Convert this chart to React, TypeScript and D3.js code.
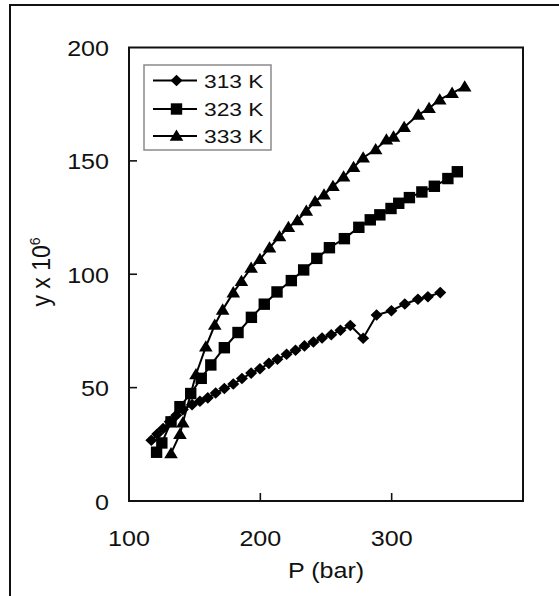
import React from "react";
import * as d3 from "d3";

const P313 = [117, 121.5, 126, 131, 136, 141, 148, 154, 160, 166, 172.6, 179.4, 186, 193, 199.7, 206.5, 213, 220, 226.8, 233.6, 240.4, 247, 254, 261, 268.5, 278.3, 288.5, 299.8, 310, 320, 327.6, 337];
const Y313 = [26.8, 29.5, 32, 35, 37.8, 40.3, 42.5, 44, 45.5, 47.6, 49.6, 51.6, 54, 56.4, 58.3, 60.7, 62.5, 64.7, 66.5, 68.4, 70.1, 71.9, 73.3, 75.3, 77.4, 71.8, 82, 83.9, 86.9, 89, 90.1, 91.9];

const P323 = [121, 125, 132, 138.8, 147, 155, 162.3, 172.6, 183, 193.2, 203, 212.7, 223.6, 233, 243, 252.6, 264, 275, 283.7, 291, 299.5, 305.4, 313.5, 323, 332.5, 342.8, 350];
const Y323 = [21.5, 25.6, 34.9, 41.6, 47.4, 54.1, 60, 67.6, 74.3, 81, 86.8, 92.2, 97.2, 101.9, 107, 111.7, 115.7, 120.7, 124, 126.2, 129, 131.3, 133.8, 136.3, 138.8, 142.2, 145.2];

const P333 = [132, 138.8, 141, 151, 158.5, 165.3, 171.3, 179.4, 185.6, 193, 199.7, 207, 214.6, 221.4, 228.2, 235, 241.7, 248.5, 255.3, 263.4, 271, 278.3, 287.8, 296, 301.4, 309.5, 320.3, 328.5, 336.6, 346, 355.6];
const Y333 = [21, 29.5, 34.5, 55.8, 68, 77.6, 84.3, 91.9, 96.9, 102.8, 106.6, 111.7, 116.7, 120.7, 123.7, 127.9, 132.1, 135.1, 138.8, 143, 147.2, 151.4, 155, 159.3, 160.6, 164.8, 170.3, 173.2, 177, 179.9, 182.7];

const SERIES = ["313 K", "323 K", "333 K"];
const X_TICKS = [100, 200, 300];
const Y_TICKS = [0, 50, 100, 150, 200];

const FONT = "'Liberation Sans', Arial, Helvetica, sans-serif";

function SText({
  x,
  y,
  size,
  sx,
  anchor,
  children,
}: {
  x: number;
  y: number;
  size: number;
  sx: number;
  anchor: "start" | "middle" | "end";
  children: React.ReactNode;
}) {
  return (
    <text
      transform={`translate(${x},${y}) scale(${sx},1)`}
      textAnchor={anchor}
      fontSize={size}
      fill="#111"
    >
      {children}
    </text>
  );
}

function Marker({ kind, x, y }: { kind: number; x: number; y: number }) {
  if (kind === 0) {
    return <path d={`M${x},${y - 5.8} L${x + 6},${y} L${x},${y + 5.8} L${x - 6},${y} Z`} fill="#000" />;
  }
  if (kind === 1) {
    return <rect x={x - 5.7} y={y - 5.7} width={11.4} height={11.4} fill="#000" />;
  }
  return <path d={`M${x},${y - 6.5} L${x + 6.8},${y + 4.8} L${x - 6.8},${y + 4.8} Z`} fill="#000" />;
}

export default function App() {
  const x = d3.scaleLinear().domain([100, 400]).range([129, 523]);
  const y = d3.scaleLinear().domain([0, 200]).range([501, 47.5]);
  const data = [
    P313.map((p, i) => [p, Y313[i]] as [number, number]),
    P323.map((p, i) => [p, Y323[i]] as [number, number]),
    P333.map((p, i) => [p, Y333[i]] as [number, number]),
  ];
  const line = d3
    .line<[number, number]>()
    .x((d) => x(d[0]))
    .y((d) => y(d[1]));

  const legendRows = [80.5, 109, 136];

  return (
    <svg
      width={559}
      height={596}
      style={{ position: "absolute", left: 0, top: 0, background: "#fff" }}
      fontFamily={FONT}
    >
      <rect x={0} y={0} width={559} height={596} fill="#fff" />
      <path d="M10,596 V5 H559" fill="none" stroke="#111" strokeWidth={2} />

      {/* plot frame */}
      <rect x={129} y={47.5} width={394} height={453.5} fill="none" stroke="#111" strokeWidth={2} />

      {/* ticks */}
      {X_TICKS.filter((t) => t !== 100).map((t) => (
        <line key={"xt" + t} x1={x(t)} x2={x(t)} y1={501} y2={493} stroke="#111" strokeWidth={1.6} />
      ))}
      {Y_TICKS.filter((t) => t !== 0 && t !== 200).map((t) => (
        <line key={"yt" + t} x1={129} x2={137} y1={y(t)} y2={y(t)} stroke="#111" strokeWidth={1.6} />
      ))}

      {X_TICKS.map((t) => (
        <SText key={"xl" + t} x={x(t)} y={546} size={22} sx={1.14} anchor="middle">
          {t}
        </SText>
      ))}
      {Y_TICKS.map((t) => (
        <SText key={"yl" + t} x={109} y={y(t) + 8.5} size={22} sx={1.14} anchor="end">
          {t}
        </SText>
      ))}

      <SText x={326} y={578} size={22} sx={1.14} anchor="middle">
        P (bar)
      </SText>
      <text transform="translate(50,272) rotate(-90) scale(1,1.1)" textAnchor="middle" fontSize={23} fill="#111">
        y x 10
        <tspan fontSize={14} dy={-9}>
          6
        </tspan>
      </text>

      {/* series */}
      {data.map((s, k) => (
        <g key={"s" + k}>
          <path d={line(s) || ""} fill="none" stroke="#000" strokeWidth={2} />
          {s.map((d, i) => (
            <Marker key={i} kind={k} x={x(d[0])} y={y(d[1])} />
          ))}
        </g>
      ))}

      {/* legend */}
      <rect x={144} y={65} width={127} height={85} fill="#fff" stroke="#8a8a8a" strokeWidth={1.5} />
      {SERIES.map((name, k) => (
        <g key={"lg" + k}>
          <line x1={153} x2={197} y1={legendRows[k]} y2={legendRows[k]} stroke="#000" strokeWidth={2} />
          <Marker kind={k} x={176.5} y={legendRows[k]} />
          <SText x={204} y={legendRows[k] + 7} size={19} sx={1.2} anchor="start">
            {name}
          </SText>
        </g>
      ))}
    </svg>
  );
}
